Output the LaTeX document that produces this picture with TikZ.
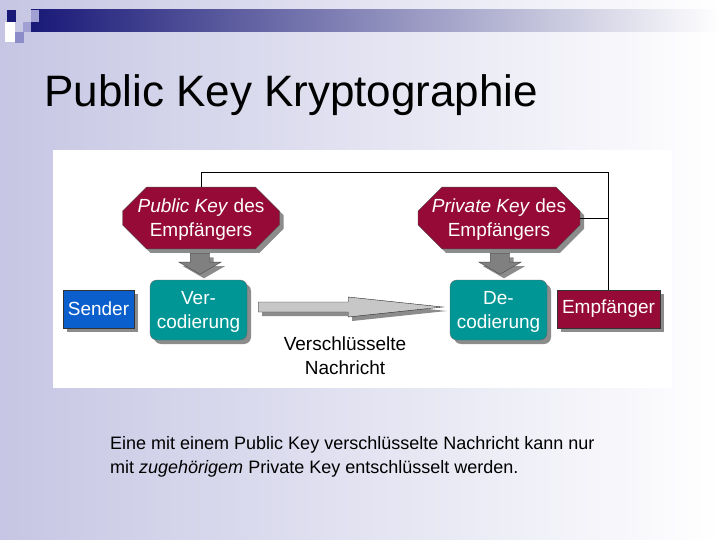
\documentclass[tikz,border=0pt]{standalone}
\usepackage{fontspec}
\setmainfont{Liberation Sans}
\usetikzlibrary{shapes.misc,shapes.arrows,shadows,calc}
\definecolor{keyred}{RGB}{150,10,55}
\definecolor{sendblue}{RGB}{10,95,205}
\definecolor{codeteal}{RGB}{0,150,150}
\definecolor{slidebg}{RGB}{198,198,228}
\definecolor{barnavy}{RGB}{25,25,120}
\definecolor{sqlight}{RGB}{160,160,210}
\definecolor{sqmid}{RGB}{140,140,200}
\tikzset{
    shade4/.style={
        drop shadow={shadow xshift=4pt,shadow yshift=-4pt,fill=black!45,opacity=1}
    },
    keybox/.style={
        chamfered rectangle,
        chamfered rectangle xsep=12pt,
        chamfered rectangle ysep=12pt,
        minimum height=58pt,
        inner sep=0pt,
        text depth=0pt,
        fill=keyred,
        draw=black!70,
        text=white,
        align=center,
        font=\fontsize{19}{24}\selectfont,
        shade4
    },
    party/.style={
        rectangle,
        minimum height=38pt,
        inner xsep=3pt,
        draw=black!80,
        text=white,
        font=\fontsize{19}{24}\selectfont,
        shade4
    },
    codebox/.style={
        rectangle,
        rounded corners=7pt,
        minimum width=97pt,
        minimum height=60pt,
        inner sep=0pt,
        text depth=0pt,
        fill=codeteal,
        draw=black!60,
        text=white,
        align=center,
        font=\fontsize{19}{24}\selectfont,
        shade4
    },
    keydown/.style={
        single arrow,
        rotate=-90,
        minimum height=21pt,
        inner xsep=0pt,
        inner ysep=9.5pt,
        single arrow head extend=11.5pt,
        single arrow tip angle=120,
        fill=black!50,
        draw=black!70,
        shade4
    },
    msgflow/.style={
        fill=black!22,
        draw=black!85,
        line join=miter,
        shade4
    },
    link/.style={draw=black, line width=0.9pt}
}
\begin{document}
\begin{tikzpicture}[x=1pt,y=-1pt]
    \useasboundingbox (0,0) rectangle (720,540);
    % slide background
    \shade[left color=slidebg, right color=white] (0,0) rectangle (720,540);
    \shade[left color=barnavy, right color=white] (31,10) rectangle (720,32);
    \fill[barnavy] (7,10) rectangle (16,22);
    \fill[sqlight] (31,10) rectangle (39,22);
    \fill[white] (5,22) rectangle (15,42);
    \fill[sqlight] (23,22) rectangle (31,32);
    \fill[sqmid] (15,32) rectangle (24,43);
    \node[anchor=base west, inner sep=0pt, font=\fontsize{44}{50}\selectfont]
        (title) at (44,107) {Public Key Kryptographie};
    % picture area
    \fill[white] (53,150) rectangle (672,388);
    % keys
    \node[keybox, minimum width=157pt] (pub) at (201,218)
        {\textit{Public Key} des\\Empfängers};
    \node[keybox, minimum width=162pt] (priv) at (499,218)
        {\textit{Private Key} des\\Empfängers};
    \node[keydown] (pubdown) at (200,261) {};
    \node[keydown] (privdown) at (500,261) {};
    % parties and coding steps
    \node[party, fill=sendblue, minimum width=71pt] (send) at (98.5,309) {Sender};
    \node[codebox] (ver) at (198.5,310) {Ver-\\codierung};
    \node[codebox] (de) at (498.5,310) {De-\\codierung};
    \node[party, fill=keyred, minimum width=103pt] (empf) at (608.5,309) {Empfänger};
    \node[align=center, inner sep=0pt, font=\fontsize{19}{24}\selectfont]
        (msglabel) at (345,356) {Verschlüsselte\\Nachricht};
    % draw message arrow
    \coordinate (tail) at ($(ver.east)+(11,-3)$);
    \coordinate (tip) at ($(de.west)+(-7,-3)$);
    \draw[msgflow] ($(tail)+(0,-5)$) -- ($(tail)+(90,-5)$) -- ($(tail)+(90,-10)$)
        -- (tip) -- ($(tail)+(90,10)$) -- ($(tail)+(90,5)$) -- ($(tail)+(0,5)$) -- cycle;
    % draw key lines
    \coordinate (top) at (0,172);
    \draw[link] (empf.north) -- (empf.north |- top) -| (pub.north);
    \draw[link] (priv.east) -- (priv.east -| empf.north);
    % caption
    \node[anchor=base west, align=left, inner sep=0pt, font=\fontsize{18}{24}\selectfont]
        (caption) at (110,473) {Eine mit einem Public Key verschlüsselte Nachricht kann nur\\
        mit \textit{zugehörigem} Private Key entschlüsselt werden.};
\end{tikzpicture}
\end{document}
